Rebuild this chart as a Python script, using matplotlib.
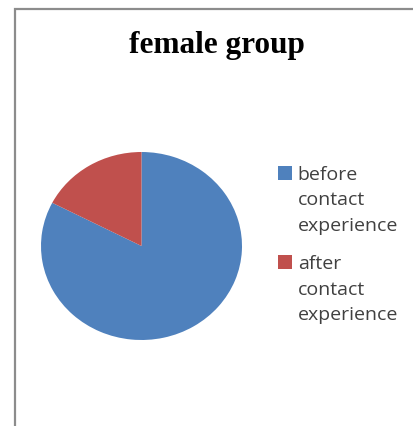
import matplotlib
matplotlib.use("Agg")
from matplotlib import pyplot as plt
from matplotlib.patches import Rectangle

# values (share of the pie)
labels = ["before\ncontact\nexperience", "after\ncontact\nexperience"]
shares = [82.6, 17.4]
colors = ["#4F81BD", "#C0504D"]
title = "female group"

fig = plt.figure(figsize=(4.13, 4.26), dpi=100)

# grey frame of the chart area (open to the right and bottom)
fig.patches.append(Rectangle((15 / 413, -0.1), 1.2, 1.1 - 9 / 426,
                             transform=fig.transFigure, fill=False,
                             edgecolor="#8c8c8c", linewidth=1.6))

ax = fig.add_axes([41 / 413, 86 / 426, 201 / 413, 188 / 426])
wedges, _ = ax.pie(shares, colors=colors, startangle=90, counterclock=False,
                   wedgeprops=dict(linewidth=0))
ax.set_aspect("auto")
ax.set_xlim(-1, 1)
ax.set_ylim(-1, 1)

fig.text(217 / 413, 1 - 46 / 426, title, ha="center", va="center",
         family="Liberation Serif", fontweight="bold", fontsize=22.5)

leg = fig.legend(wedges, labels, loc="upper left",
                 bbox_to_anchor=(278 / 413, 1 - 166 / 426),
                 frameon=False, prop=dict(family="Open Sans", size=14),
                 borderaxespad=0, borderpad=0,
                 handlelength=0.72, handleheight=0.72, handletextpad=0.3,
                 labelspacing=1.05, labelcolor="#404040")
for t in leg.get_texts():
    t.set_linespacing(1.53)
for col in leg._legend_handle_box.get_children():
    for row in col.get_children():
        row.align = "top"

fig.savefig("out.png", dpi=100)
